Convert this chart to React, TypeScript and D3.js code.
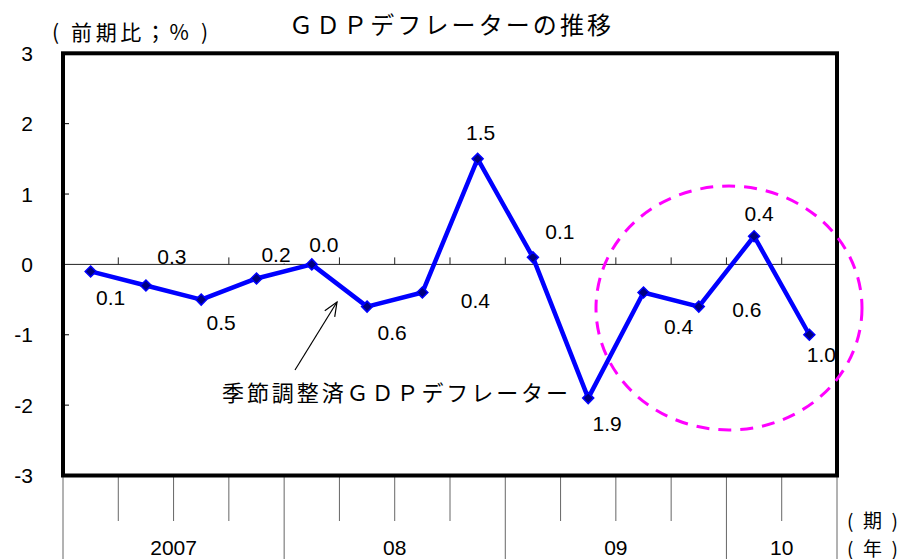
import React from 'react';
import * as d3 from 'd3';

// ---- data ----
const years = ['2007', '08', '09', '10'];
const quartersPerYear = [4, 4, 4, 2];
const values = [-0.1, -0.3, -0.5, -0.2, 0.0, -0.6, -0.4, 1.5, 0.1, -1.9, -0.4, -0.6, 0.4, -1.0];
const yTicks = [-3, -2, -1, 0, 1, 2, 3];
const title = 'ＧＤＰデフレーターの推移';
const unitLabel = '( 前期比；% )';
const seriesName = '季節調整済ＧＤＰデフレーター';
const periodLabel = '( 期 )';
const yearUnitLabel = '( 年 )';

// ---- layout (label offsets in px relative to point) ----
const labelOffsets: [number, number][] = [
  [20, 26], [26, -29], [20, 23], [19.5, -24], [12, -20], [25, 26], [53, 8],
  [3, -26], [27, -26], [19, 25], [35, 34], [48, 3], [5, -23], [12, 20],
];

const W = 902;
const H = 559;
const L = 63, R = 837, T = 53.3, B = 475.5;
const NUM = 'Liberation Sans, Arial, sans-serif';
const CJK = '"Noto Sans CJK JP", sans-serif';

export default function App() {
  const n = values.length;
  const x = d3.scaleBand<number>().domain(d3.range(n)).range([L, R]).padding(0);
  const bw = x.bandwidth();
  const y = d3.scaleLinear().domain([-3, 3]).range([B, T]);
  const cx = (i: number) => (x(i) as number) + bw / 2;
  const y0 = y(0);

  const line = d3.line<number>().x((_, i) => cx(i)).y((v) => y(v));

  // year boundaries
  const yearStarts: number[] = [];
  let acc = 0;
  quartersPerYear.forEach((q) => { yearStarts.push(acc); acc += q; });
  const yearBoundaryIdx = new Set([...yearStarts, acc]);
  const bound = (k: number) => L + k * bw;

  const diamond = (px: number, py: number, r: number) =>
    `M${px},${py - r}L${px + r},${py}L${px},${py + r}L${px - r},${py}Z`;

  const fs = 21;
  const labelText = (v: number) => Math.abs(v).toFixed(1);

  // arrow
  const ax1 = 295, ay1 = 370, ax2 = 337, ay2 = 302;
  const ang = Math.atan2(ay2 - ay1, ax2 - ax1);
  const headLen = 15, headAng = 0.4;
  const h1 = [ax2 - headLen * Math.cos(ang - headAng), ay2 - headLen * Math.sin(ang - headAng)];
  const h2 = [ax2 - headLen * Math.cos(ang + headAng), ay2 - headLen * Math.sin(ang + headAng)];

  return (
    <svg width={W} height={H} style={{ position: 'absolute', left: 0, top: 0, background: '#fff' }}>
      <rect x={0} y={0} width={W} height={H} fill="#fff" />

      {/* title */}
      <text x={289} y={23} fontFamily={CJK} fontSize={24} textLength={322} lengthAdjust="spacing" dominantBaseline="central" fill="#000">{title}</text>
      <text x={52} y={31} fontFamily={CJK} fontSize={21} textLength={156} lengthAdjust="spacing" dominantBaseline="central" fill="#000">{unitLabel}</text>

      {/* y tick labels */}
      {yTicks.map((t) => (
        <text key={t} x={33} y={y(t)} textAnchor="end" dominantBaseline="central" fontFamily={NUM} fontSize={fs} fill="#000">{t}</text>
      ))}

      {/* left axis inner ticks */}
      {yTicks.filter((t) => t !== 0 && Math.abs(t) !== 3).map((t) => (
        <line key={t} x1={L} x2={L + 6} y1={y(t)} y2={y(t)} stroke="#000" strokeWidth={1} />
      ))}

      {/* zero line ticks */}
      {d3.range(1, n).map((k) => (
        <line key={k} x1={bound(k)} x2={bound(k)} y1={y0 - 7} y2={y0} stroke="#222" strokeWidth={1} />
      ))}

      {/* data labels with white backgrounds */}
      {values.map((v, i) => {
        const lx = cx(i) + labelOffsets[i][0];
        const ly = y(v) + labelOffsets[i][1];
        const tw = 1.39 * fs;
        return (
          <g key={i}>
            <rect x={lx - tw / 2} y={ly - 9} width={tw} height={18} fill="#fff" />
            <text x={lx} y={ly} textAnchor="middle" dominantBaseline="central" fontFamily={NUM} fontSize={fs} fill="#000">{labelText(v)}</text>
          </g>
        );
      })}

      {/* zero line */}
      <line x1={L} x2={R} y1={y0} y2={y0} stroke="#222" strokeWidth={1} />

      {/* bottom category lines */}
      {d3.range(0, n + 1).map((k) => (
        <line key={k} x1={bound(k)} x2={bound(k)} y1={B} y2={yearBoundaryIdx.has(k) ? H : 521} stroke="#666" strokeWidth={1} />
      ))}
      {years.map((yr, j) => {
        const mid = (bound(yearStarts[j]) + bound(yearStarts[j] + quartersPerYear[j])) / 2;
        return (
          <text key={yr} x={mid} y={555} textAnchor="middle" fontFamily={NUM} fontSize={fs} fill="#000">{yr}</text>
        );
      })}
      <text x={847} y={519} fontFamily={CJK} fontSize={19} textLength={51} lengthAdjust="spacing" dominantBaseline="central" fill="#000">{periodLabel}</text>
      <text x={847} y={547} fontFamily={CJK} fontSize={19} textLength={51} lengthAdjust="spacing" dominantBaseline="central" fill="#000">{yearUnitLabel}</text>

      {/* plot frame */}
      <rect x={L} y={T} width={R - L} height={B - T} fill="none" stroke="#000" strokeWidth={4} />

      {/* series */}
      <path d={line(values) || ''} fill="none" stroke="#0000FF" strokeWidth={4.5} strokeLinejoin="round" />
      {values.map((v, i) => (
        <path key={i} d={diamond(cx(i), y(v), 5.5)} fill="#000080" stroke="#0000FF" strokeWidth={1.5} />
      ))}

      {/* highlight ellipse */}
      <ellipse cx={729} cy={308} rx={133} ry={122} fill="none" stroke="#FF00FF" strokeWidth={3} strokeDasharray="13 9" />

      {/* annotation arrow */}
      <line x1={ax1} y1={ay1} x2={ax2} y2={ay2} stroke="#000" strokeWidth={1.2} />
      <polyline points={`${h1[0]},${h1[1]} ${ax2},${ay2} ${h2[0]},${h2[1]}`} fill="none" stroke="#000" strokeWidth={1.2} />
      <text x={222} y={391} fontFamily={CJK} fontSize={22} textLength={346} lengthAdjust="spacing" dominantBaseline="central" fill="#000">{seriesName}</text>
    </svg>
  );
}
